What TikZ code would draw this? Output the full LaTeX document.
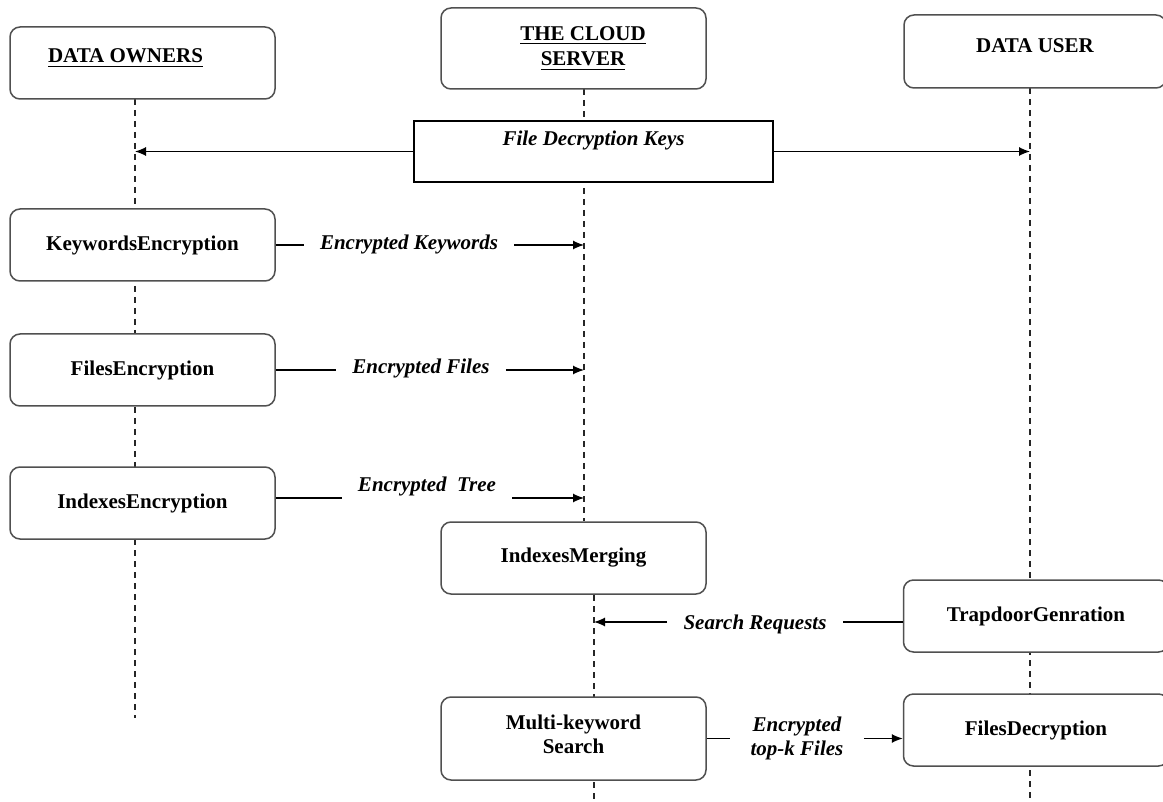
\documentclass[tikz,border=0pt]{standalone}
\usepackage{fontspec}
\setmainfont{Liberation Serif}
\usetikzlibrary{arrows,arrows.meta,shapes}

\begin{document}
\begin{tikzpicture}[x=0.5pt,y=-0.5pt]
    \definecolor{myborder}{RGB}{80,80,80}
    \fontsize{10.5pt}{12pt}\selectfont\bfseries  % 字体
    \tikzstyle{format}=[rectangle,rounded corners=5pt,draw=myborder,line width=0.75pt,fill=white,minimum width=132.5pt,minimum height=36pt,inner sep=0pt]  % 圆角框
    \tikzstyle{keybox}=[rectangle,draw=black,line width=0.6pt,fill=white,minimum width=179.5pt,minimum height=30.5pt,inner sep=0pt]  % 直角框
    \tikzstyle{msg}=[font=\bfseries\itshape,inner sep=8pt]  % 消息文字
    \tikzstyle{life}=[dash pattern=on 3pt off 2.5pt,line width=0.75pt,black!85]  % 生命线
    \tikzstyle{arr}=[-{Latex[length=5.5pt,width=4.5pt]},line width=0.6pt]
    \tikzstyle{point}=[coordinate]

    \useasboundingbox (0,0) rectangle (1163,802);

    % 生命线端点
    \node[point] (ownend) at (135,718) {};
    \node[point] (cloudtop) at (584,89) {};
    \node[point] (cloudmid) at (584,521) {};
    \node[point] (cloudlow) at (594,595) {};
    \node[point] (cloudend) at (594,802) {};
    \node[point] (userend) at (1030,802) {};

    % 开始画生命线
    \draw[life] (ownend |- 0,99) -- (ownend);
    \draw[life] (cloudtop) -- (cloudmid);
    \draw[life] (cloudlow) -- (cloudend);
    \draw[life] (userend |- 0,88) -- (userend);

    % 标题框
    \node[format] (own) at (142.5,63) {};
    \node (ownt) at ([xshift=-8.5pt,yshift=2.5pt]own.center) {\underline{DATA OWNERS}};
    \node[format,minimum height=40.5pt] (cloud) at (573.5,48.5) {};
    \node[align=center] (cloudt) at ([xshift=4.75pt]cloud.center) {\underline{THE CLOUD}\\[0.5pt]\underline{SERVER}};
    \node[format,minimum width=131pt,minimum height=36.5pt] (user) at (1035,51.5) {};
    \node (usert) at ([yshift=2.75pt]user.center) {DATA USER};

    % 密钥框
    \node[keybox] (keys) at (593.5,151.5) {};
    \node[font=\bfseries\itshape] (keyst) at ([yshift=5.75pt]keys.center) {File Decryption Keys};

    % 操作框
    \node[format] (kenc) at (142.5,245) {KeywordsEncryption};
    \node[format] (fenc) at (142.5,370) {FilesEncryption};
    \node[format] (ienc) at (142.5,503) {IndexesEncryption};
    \node[format] (merge) at (573.5,558) {IndexesMerging};
    \node[format] (trap) at (1036,616) {TrapdoorGenration};
    \node[format,minimum height=41.5pt] (mks) at (573.5,738.5) {};
    \node[align=center] (mkst) at ([yshift=2pt]mks.center) {Multi-keyword\\Search};
    \node[format] (fdec) at (1036,730) {FilesDecryption};

    % 消息文字
    \node[msg] (kwl) at (409,244) {Encrypted Keywords};
    \node[msg] (fl) at (421,368) {Encrypted Files};
    \node[msg] (trl) at (427,486) {Encrypted\ \ Tree};
    \node[msg] (srl) at (755,624) {Search Requests};
    \node[msg,align=center,inner sep=10pt] (tkl) at (797,738) {Encrypted\\top-k Files};

    % 开始画线
    \draw[arr] (keys.west) -- (keys.west -| ownend);
    \draw[arr] (keys.east) -- (keys.east -| userend);
    \draw[line width=0.6pt] (kenc.east) -- (kenc.east -| kwl.west);
    \draw[arr] (kwl.east |- kenc.east) -- (kenc.east -| cloudtop);
    \draw[line width=0.6pt] (fenc.east) -- (fenc.east -| fl.west);
    \draw[arr] (fl.east |- fenc.east) -- (fenc.east -| cloudtop);
    \draw[line width=0.6pt] ([yshift=2.5pt]ienc.east) -- ([yshift=2.5pt]ienc.east -| trl.west);
    \draw[arr] ([yshift=2.5pt]ienc.east -| trl.east) -- ([yshift=2.5pt]ienc.east -| cloudtop);
    \draw[line width=0.6pt] ([yshift=-3pt]trap.west) -- ([yshift=-3pt]trap.west -| srl.east);
    \draw[arr] ([yshift=-3pt]trap.west -| srl.west) -- ([yshift=-3pt]trap.west -| cloudlow);
    \draw[line width=0.6pt] (mks.east) -- (mks.east -| tkl.west);
    \draw[arr] (mks.east -| tkl.east) -- (mks.east -| fdec.west);
\end{tikzpicture}
\end{document}
